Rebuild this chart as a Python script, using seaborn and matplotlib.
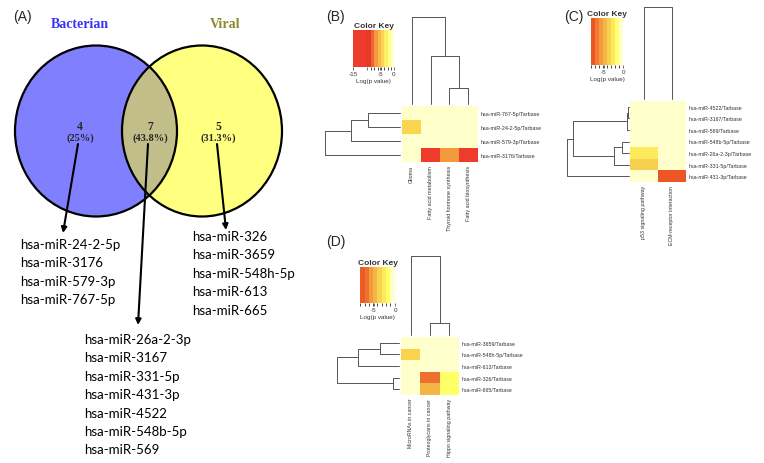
import numpy as np
import pandas as pd
import matplotlib
matplotlib.use('Agg')
import matplotlib.pyplot as plt
from matplotlib.colors import ListedColormap, BoundaryNorm
from matplotlib.patches import Ellipse
import seaborn as sns

sns.set_style('white')
plt.rcParams['font.family'] = ['Liberation Sans', 'DejaVu Sans']

W, H = 764, 464

# (A) Venn counts and miRNA lists
venn_sets = ['Bacterian', 'Viral']
venn_counts = [4, 7, 5]
venn_pct = ['(25%)', '(43.8%)', '(31.3%)']
mir_bacterian = ['hsa-miR-24-2-5p', 'hsa-miR-3176', 'hsa-miR-579-3p', 'hsa-miR-767-5p']
mir_common = ['hsa-miR-26a-2-3p', 'hsa-miR-3167', 'hsa-miR-331-5p', 'hsa-miR-431-3p',
              'hsa-miR-4522', 'hsa-miR-548b-5p', 'hsa-miR-569']
mir_viral = ['hsa-miR-326', 'hsa-miR-3659', 'hsa-miR-548h-5p', 'hsa-miR-613', 'hsa-miR-665']

# (B) bacterian-only miRNAs
b_rows = ['hsa-miR-767-5p/Tarbase', 'hsa-miR-24-2-5p/Tarbase', 'hsa-miR-579-3p/Tarbase', 'hsa-miR-3176/Tarbase']
b_cols = ['Glioma', 'Fatty acid metabolism', 'Thyroid hormone synthesis', 'Fatty acid biosynthesis']
b_vals = [[-0.3, -0.3, -0.3, -0.3],
          [-4.2, -0.3, -0.3, -0.3],
          [-0.3, -0.3, -0.3, -0.3],
          [-0.3, -12.0, -6.5, -12.5]]
b_row_link = [(0, 1, 0.43), (4, 2, 0.66), (5, 3, 1.0)]
b_col_link = [(2, 3, 0.18), (1, 4, 0.55), (0, 5, 1.0)]
b_bounds = [-15, -10, -8.3, -7.2, -6, -4.8, -3.5, -2.3, -1.2, 0]
b_colors = ['#EE3B2B', '#E5392A', '#F0622F', '#F39A3F', '#F7B848', '#FAD650', '#FDF060', '#FFFF90', '#FFFFCC']

# (C) common miRNAs
c_rows = ['hsa-miR-4522/Tarbase', 'hsa-miR-3167/Tarbase', 'hsa-miR-569/Tarbase', 'hsa-miR-548b-5p/Tarbase',
          'hsa-miR-26a-2-3p/Tarbase', 'hsa-miR-331-5p/Tarbase', 'hsa-miR-431-3p/Tarbase']
c_cols = ['p53 signaling pathway', 'ECM-receptor interaction']
c_vals = [[-0.3, -0.3], [-0.3, -0.3], [-0.3, -0.3], [-0.3, -0.3],
          [-2.3, -0.3], [-3.6, -0.3], [-0.6, -7.6]]
c_row_link = [(0, 1, 0.02), (7, 2, 0.03), (3, 4, 0.11), (9, 5, 0.24), (8, 10, 0.905), (11, 6, 1.0)]
c_col_link = [(0, 1, 1.0)]
c_bounds = [-8.3, -7.2, -6.2, -5.2, -4.2, -3.2, -2.2, -1.1, 0]
c_colors = ['#EE5524', '#F07A30', '#F39A3C', '#F5B545', '#F8D050', '#FCEA5A', '#FFFF70', '#FFFFCC']

# (D) viral-only miRNAs
d_rows = ['hsa-miR-3659/Tarbase', 'hsa-miR-548h-5p/Tarbase', 'hsa-miR-613/Tarbase',
          'hsa-miR-326/Tarbase', 'hsa-miR-665/Tarbase']
d_cols = ['MicroRNAs in cancer', 'Proteoglycans in cancer', 'Hippo signaling pathway']
d_vals = [[-0.3, -0.3, -0.3],
          [-3.8, -0.3, -0.3],
          [-0.3, -0.3, -0.3],
          [-0.3, -6.8, -2.0],
          [-0.3, -4.8, -2.0]]
d_row_link = [(0, 1, 0.31), (5, 2, 0.66), (3, 4, 0.10), (6, 7, 1.0)]
d_col_link = [(1, 2, 0.15), (0, 3, 1.0)]
d_bounds = [-8.3, -7.2, -6.2, -5.2, -4.2, -3.2, -2.2, -1.1, 0]
d_colors = ['#EE5A26', '#EE7030', '#F39A3C', '#F5B545', '#F9D24E', '#FCEA5A', '#FFFF66', '#FFFFCC']

fig = plt.figure(figsize=(W / 100, H / 100), dpi=100)


def px_axes(x0, y0, x1, y1):
    return fig.add_axes([x0 / W, 1 - y1 / H, (x1 - x0) / W, (y1 - y0) / H])


def dendro(ax, links, n, side):
    pos = {i: i + 0.5 for i in range(n)}
    hgt = {i: 0.0 for i in range(n)}
    for k, (a, b, h) in enumerate(links):
        xs = [pos[a], pos[a], pos[b], pos[b]]
        ys = [hgt[a], h, h, hgt[b]]
        if side == 'top':
            ax.plot(xs, ys, color='#555555', lw=0.7, clip_on=False)
        else:
            ax.plot(ys, xs, color='#555555', lw=0.7, clip_on=False)
        pos[n + k] = (pos[a] + pos[b]) / 2
        hgt[n + k] = h
    if side == 'top':
        ax.set_xlim(0, n)
        ax.set_ylim(0, 1)
    else:
        ax.set_ylim(n, 0)
        ax.set_xlim(1, 0)
    ax.axis('off')


def panel(rows, cols, vals, row_link, col_link, bounds, colors, ticks, ticklabels,
          heat_box, row_box, col_box, key_box, fs):
    df = pd.DataFrame(vals, index=rows, columns=cols)
    cmap = ListedColormap(colors)
    norm = BoundaryNorm(bounds, cmap.N)
    ax = px_axes(*heat_box)
    kax = px_axes(*key_box)
    sns.heatmap(df, ax=ax, cmap=cmap, norm=norm, cbar_ax=kax,
                cbar_kws=dict(orientation='horizontal', spacing='proportional'))
    ax.yaxis.tick_right()
    ax.set_yticks(np.arange(len(rows)) + 0.5)
    ax.set_yticklabels(rows, rotation=0, fontsize=fs, color='#333333')
    ax.set_xticks(np.arange(len(cols)) + 0.5)
    ax.set_xticklabels(cols, rotation=90, fontsize=fs, color='#333333')
    ax.tick_params(length=0, pad=2)
    ax.set_xlabel('')
    ax.set_ylabel('')

    cb = ax.collections[0].colorbar
    cb.set_ticks(ticks, labels=ticklabels)
    cb.ax.tick_params(labelsize=4.5, length=2, width=0.5, pad=1, colors='#333333')
    cb.set_label('Log(p value)', fontsize=4.5, labelpad=1, color='#333333')
    kax.set_title('Color Key', fontsize=6, fontweight='bold', pad=2, color='#333333')

    dendro(px_axes(*row_box), row_link, len(rows), 'left')
    dendro(px_axes(*col_box), col_link, len(cols), 'top')


# ---- (A) Venn diagram ----
vax = px_axes(0, 0, 300, 464)
vax.set_xlim(0, 300)
vax.set_ylim(464, 0)
vax.axis('off')

left = Ellipse((96, 132), 162, 171, fc='#8080FF', ec='none')
right = Ellipse((202, 132), 160, 171, fc='#FFFF80', ec='none')
lens = Ellipse((202, 132), 160, 171, fc='#C2BE8A', ec='none')
vax.add_patch(left)
vax.add_patch(right)
vax.add_patch(lens)
lens.set_clip_path(left)
vax.add_patch(Ellipse((96, 132), 162, 171, fc='none', ec='black', lw=1.6))
vax.add_patch(Ellipse((202, 132), 160, 171, fc='none', ec='black', lw=1.6))

serif = ['Liberation Serif', 'DejaVu Serif']
vax.text(80, 24, venn_sets[0], ha='center', va='center', family=serif, fontweight='bold',
         fontsize=10, color='#3535F8')
vax.text(225, 24, venn_sets[1], ha='center', va='center', family=serif, fontweight='bold',
         fontsize=10, color='#8C8A2C')

region_x = [80, 150, 218]
for x, n, p in zip(region_x, venn_counts, venn_pct):
    vax.text(x, 127, str(n), ha='center', va='center', family=serif, fontweight='bold', fontsize=8.5)
    vax.text(x, 138.5, p, ha='center', va='center', family=serif, fontweight='bold', fontsize=7.5)

arrows = [((78, 145), (63, 234)), ((148, 145), (138, 326)), ((217, 145), (226, 231))]
for (xs, ys), (xe, ye) in arrows:
    vax.annotate('', xy=(xe, ye), xytext=(xs, ys),
                 arrowprops=dict(arrowstyle='-|>', color='black', lw=1.5,
                                 mutation_scale=8, shrinkA=0, shrinkB=0))

lists = [(mir_bacterian, 20, 245), (mir_common, 84, 340), (mir_viral, 192, 237)]
for names, x0, y0 in lists:
    for i, name in enumerate(names):
        vax.text(x0, y0 + i * 18.4, name, ha='left', va='center', family=['Lato', 'DejaVu Sans'],
                 fontsize=9.5, color='black')

# ---- (B), (C), (D) heatmaps ----
panel(b_rows, b_cols, b_vals, b_row_link, b_col_link, b_bounds, b_colors,
      [-15, -10, -5, 0], ['-15', '', '-5', '0'],
      (402, 107, 478, 163), (325, 107, 400, 163), (402, 18, 478, 105), (353, 31, 394, 68), 3.9)
panel(c_rows, c_cols, c_vals, c_row_link, c_col_link, c_bounds, c_colors,
      [-5, 0], ['-5', '0'],
      (630, 102, 686, 183), (567, 102, 629, 183), (630, 8, 686, 100), (591, 19, 623, 66), 3.8)
panel(d_rows, d_cols, d_vals, d_row_link, d_col_link, d_bounds, d_colors,
      [-5, 0], ['-5', '0'],
      (401, 338, 459, 396), (337, 338, 399, 396), (401, 257, 459, 336), (360, 268, 395, 304), 3.8)

for lab, x, y in [('(A)', 13, 17), ('(B)', 326, 17), ('(C)', 564, 17), ('(D)', 326, 242)]:
    fig.text(x / W, 1 - y / H, lab, ha='left', va='center', fontsize=10)

fig.savefig('out.png', dpi=100)
